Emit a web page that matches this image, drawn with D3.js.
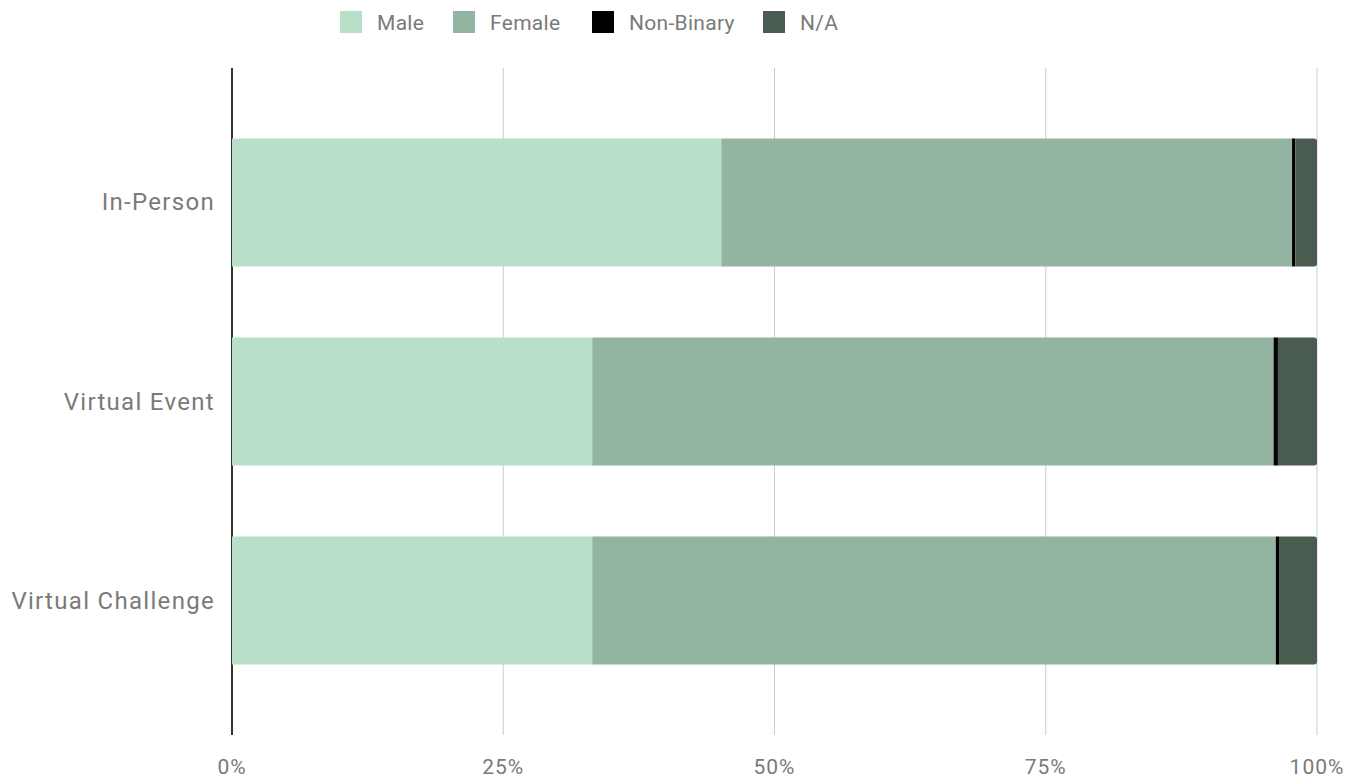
<!DOCTYPE html>
<html><head><meta charset="utf-8">
<script src="https://cdn.jsdelivr.net/npm/d3@7"></script>
<style>body{margin:0;background:#fff;} text{font-family:Roboto, "Noto Sans", sans-serif;font-weight:400;}</style>
</head><body>
<svg id="c" width="1352" height="783"></svg>
<script>
const categories = ["In-Person", "Virtual Event", "Virtual Challenge"];
const seriesNames = ["Male", "Female", "Non-Binary", "N/A"];
const male = [45.1, 33.2, 33.2];
const female = [52.6, 62.8, 63.0];
const nonBinary = [0.3, 0.4, 0.3];
const na = [2.0, 3.6, 3.5];
const colors = ["#b8dfc8", "#93b4a0", "#000000", "#4a5b50"];
const tickValues = [0, 25, 50, 75, 100];

const rows = categories.map((c, i) => ({cat: c, "Male": male[i], "Female": female[i], "Non-Binary": nonBinary[i], "N/A": na[i]}));
const stack = d3.stack().keys(seriesNames)(rows);

const svg = d3.select("#c");
const x = d3.scaleLinear().domain([0, 100]).range([232, 1317]);
const y = d3.scaleBand().domain(categories).range([68, 735]).paddingInner(0.357).paddingOuter(0.354);

// grid
svg.append("g").selectAll("line").data(tickValues.slice(1)).join("line")
  .attr("x1", d => x(d)).attr("x2", d => x(d)).attr("y1", 68).attr("y2", 735)
  .attr("stroke", "#cccccc").attr("stroke-width", 1);

// left axis line
svg.append("line").attr("x1", x(0)).attr("x2", x(0)).attr("y1", 68).attr("y2", 735)
  .attr("stroke", "#333").attr("stroke-width", 2);

// bars
const r = 3;
stack.forEach((s, si) => {
  svg.append("g").selectAll("path").data(s).join("path")
    .attr("fill", colors[si])
    .attr("d", d => {
      const x0 = x(d[0]), x1 = x(d[1]), y0 = y(d.data.cat), h = y.bandwidth();
      if (si === seriesNames.length - 1) {
        return `M${x0},${y0}H${x1 - r}Q${x1},${y0} ${x1},${y0 + r}V${y0 + h - r}Q${x1},${y0 + h} ${x1 - r},${y0 + h}H${x0}Z`;
      }
      return `M${x0},${y0}H${x1}V${y0 + h}H${x0}Z`;
    });
});

// x tick labels
svg.append("g").selectAll("text").data(tickValues).join("text")
  .attr("x", d => x(d)).attr("y", 774).attr("text-anchor", "middle")
  .attr("font-size", 21).attr("letter-spacing", 1).attr("fill", "#7a7a7a").text(d => d + "%");

// y labels
svg.append("g").selectAll("text").data(categories).join("text")
  .attr("x", 215).attr("y", d => y(d) + y.bandwidth() / 2 + 8).attr("text-anchor", "end")
  .attr("font-size", 24).attr("letter-spacing", 1.3).attr("fill", "#7a7a7a").text(d => d);

// legend
const legX = [340, 453, 592, 763];
const lg = svg.append("g").selectAll("g").data(seriesNames).join("g")
  .attr("transform", (d, i) => `translate(${legX[i]},0)`);
lg.append("rect").attr("x", 0).attr("y", 11).attr("width", 22).attr("height", 22).attr("fill", (d, i) => colors[i]);
lg.append("text").attr("x", 37).attr("y", 30).attr("font-size", 21).attr("letter-spacing", 0.3).attr("fill", "#7a7a7a").text(d => d);
</script>
</body></html>
